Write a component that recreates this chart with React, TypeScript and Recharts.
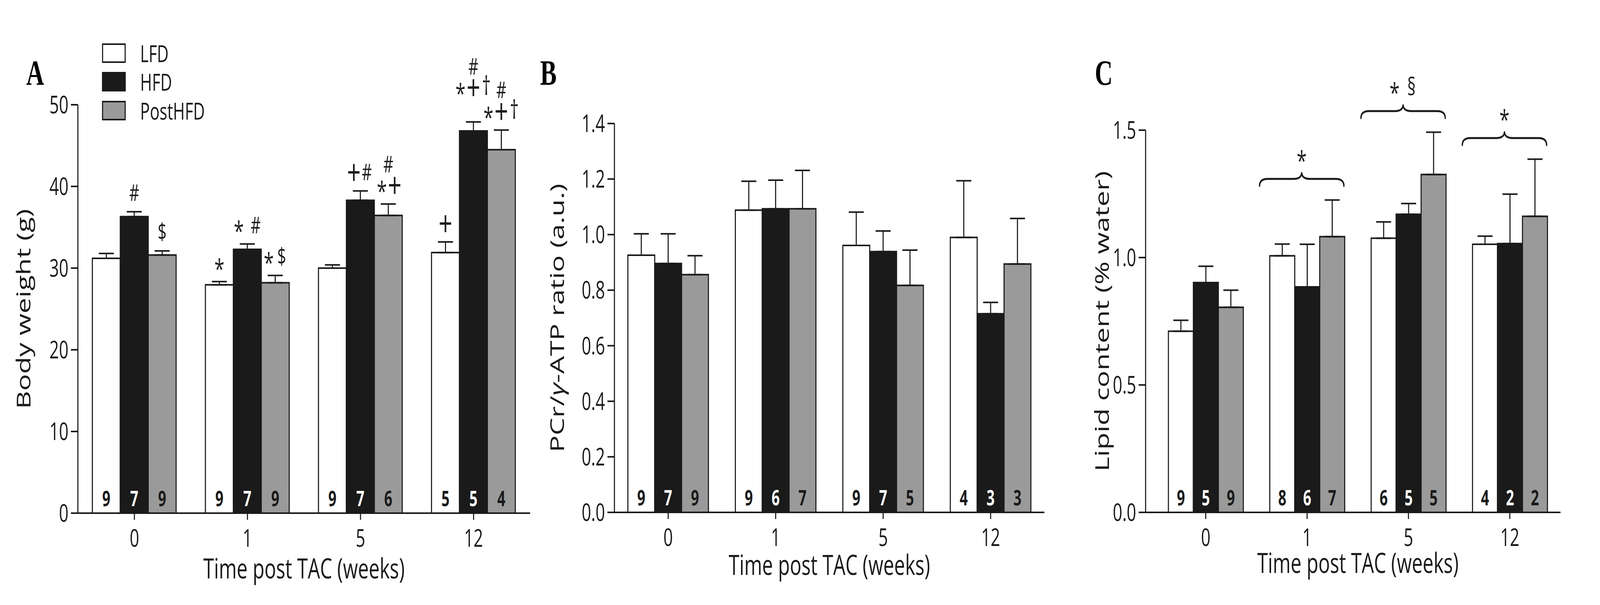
import React from 'react';
import { BarChart, Bar, XAxis, YAxis, ErrorBar, LabelList, Legend, ReferenceDot } from 'recharts';

const weeks = ['0', '1', '5', '12'];

// A: body weight (g), mean + SEM
const lfdWeight = [31.2, 27.95, 30.0, 31.9];
const lfdWeightSem = [0.6, 0.4, 0.4, 1.3];
const hfdWeight = [36.3, 32.3, 38.3, 46.8];
const hfdWeightSem = [0.6, 0.65, 1.15, 1.1];
const postWeight = [31.6, 28.2, 36.45, 44.5];
const postWeightSem = [0.5, 0.9, 1.4, 2.4];
const lfdWeightN = [9, 9, 9, 5];
const hfdWeightN = [7, 7, 7, 5];
const postWeightN = [9, 9, 6, 4];
const lfdWeightSig = [[], ['*'], [], ['+']];
const hfdWeightSig = [['#'], ['* #'], ['+#'], ['#', '*+†']];
const postWeightSig = [['$'], ['*$'], ['#', '*+'], ['#', '*+†']];
const weightTicks = [0, 10, 20, 30, 40, 50];

// B: PCr/gamma-ATP ratio
const lfdRatio = [0.926, 1.088, 0.961, 0.99];
const lfdRatioSem = [0.077, 0.104, 0.12, 0.204];
const hfdRatio = [0.896, 1.093, 0.939, 0.715];
const hfdRatioSem = [0.107, 0.103, 0.074, 0.041];
const postRatio = [0.856, 1.093, 0.817, 0.894];
const postRatioSem = [0.068, 0.138, 0.127, 0.164];
const lfdRatioN = [9, 9, 9, 4];
const hfdRatioN = [7, 6, 7, 3];
const postRatioN = [9, 7, 5, 3];
const ratioTicks = [0, 0.2, 0.4, 0.6, 0.8, 1.0, 1.2, 1.4];

// C: lipid content (% water)
const lfdLipid = [0.711, 1.007, 1.076, 1.052];
const lfdLipidSem = [0.043, 0.046, 0.064, 0.032];
const hfdLipid = [0.902, 0.885, 1.17, 1.055];
const hfdLipidSem = [0.064, 0.167, 0.042, 0.194];
const postLipid = [0.805, 1.082, 1.326, 1.162];
const postLipidSem = [0.067, 0.144, 0.166, 0.224];
const lfdLipidN = [9, 8, 6, 4];
const hfdLipidN = [5, 6, 5, 2];
const postLipidN = [9, 7, 5, 2];
const lipidTicks = [0, 0.5, 1.0, 1.5];
const lipidGroupSig = ['', '*', '* §', '*'];

const FIG_W = 5958;
const FIG_H = 1548;
const FONT = '"Open Sans", sans-serif';
const INK = '#1a1a1a';
const ORDER = ['lfd', 'hfd', 'post'];
const FILLS: Record<string, string> = { lfd: '#ffffff', hfd: '#1a1a1a', post: '#9a9a9a' };
const NAMES: Record<string, string> = { lfd: 'LFD', hfd: 'HFD', post: 'PostHFD' };
const N_COLOR: Record<string, string> = { lfd: INK, hfd: '#ffffff', post: INK };

type Series = {
  key: 'lfd' | 'hfd' | 'post';
  values: number[];
  sem: number[];
  n: number[];
  sig?: string[][];
  lift?: number[];
};

function rows(series: Series[]) {
  return weeks.map((week, i) => {
    const r: Record<string, unknown> = { week };
    series.forEach((s) => {
      r[s.key] = s.values[i];
      r[s.key + 'Sem'] = [0, s.sem[i]];
    });
    return r;
  });
}

// font size and ink centre (em above baseline) per symbol
const GLYPH: Record<string, [number, number]> = {
  '#': [58, 0.357],
  $: [58, 0.35],
  '*': [68, 0.59],
  '+': [90, 0.36],
  '†': [66, 0.29],
  '§': [62, 0.35],
};

function SymbolRow({ text, cx, cy }: { text: string; cx: number; cy: number }) {
  const chars = [...text];
  const adv = (c: string) => (c === ' ' ? 15 : 48);
  const total = chars.reduce((a, c) => a + adv(c), 0);
  let cursor = cx - total / 2;
  const out: React.ReactNode[] = [];
  chars.forEach((c, k) => {
    const a = adv(c);
    if (c !== ' ') {
      const [fs, ink] = GLYPH[c] ?? [60, 0.36];
      out.push(
        <text key={k} x={cursor + a / 2} y={cy + ink * fs} textAnchor="middle" fontSize={fs} fontFamily={FONT} fill={INK}>
          {c}
        </text>
      );
    }
    cursor += a;
  });
  return <g>{out}</g>;
}

function barBox(p: any) {
  const vb = p.viewBox ?? p;
  const h = Math.abs(vb.height);
  const y = Math.min(vb.y, vb.y + vb.height);
  return { x: vb.x, y, width: vb.width, height: h };
}

const countContent = (s: Series) => (p: any) => {
  const i = p.index;
  const { x, y, width, height } = barBox(p);
  return (
    <text x={x + width / 2} y={y + height - 18} textAnchor="middle" fontSize={53} fontWeight={700} fontFamily={FONT} fill={N_COLOR[s.key]}>
      {s.n[i]}
    </text>
  );
};

const sigContent = (s: Series) => (p: any) => {
  const i = p.index;
  const lines = s.sig?.[i];
  if (!lines || !lines.length) return null;
  const { x, y, width, height } = barBox(p);
  const pxPerUnit = height / s.values[i];
  const errTop = y - s.sem[i] * pxPerUnit;
  const base = errTop - 48 - (s.lift?.[i] ?? 0);
  return (
    <g>
      {lines.map((line, k) => (
        <SymbolRow key={k} text={line} cx={x + width / 2} cy={base - (lines.length - 1 - k) * 54} />
      ))}
    </g>
  );
};

function Brace({ cx, cy, text }: { cx: number; cy: number; text: string }) {
  const bx = cx - 20;
  const hw = 157;
  const yEnd = cy - 36;
  const yArm = yEnd - 18;
  const yPeak = yArm - 17;
  const d = `M${bx - hw},${yEnd} Q${bx - hw},${yArm} ${bx - hw + 30},${yArm} L${bx - 30},${yArm} Q${bx},${yArm} ${bx},${yPeak} Q${bx},${yArm} ${bx + 30},${yArm} L${bx + hw - 30},${yArm} Q${bx + hw},${yArm} ${bx + hw},${yEnd}`;
  return (
    <g>
      <path d={d} fill="none" stroke={INK} strokeWidth={5} strokeLinecap="round" />
      <SymbolRow text={text} cx={bx} cy={yPeak - 45} />
    </g>
  );
}

const LegendContent = (props: any) => {
  const payload = [...(props.payload ?? [])].sort(
    (a: any, b: any) => ORDER.indexOf(a.dataKey) - ORDER.indexOf(b.dataKey)
  );
  return (
    <div style={{ fontFamily: FONT }}>
      {payload.map((item: any) => (
        <div key={item.dataKey} style={{ display: 'flex', alignItems: 'center', height: 73.5 }}>
          <div
            style={{
              width: 88,
              height: 50,
              boxSizing: 'border-box',
              border: `4px solid ${INK}`,
              background: FILLS[item.dataKey],
            }}
          />
          <span style={{ marginLeft: 54, fontSize: 60, color: INK, lineHeight: 1 }}>{NAMES[item.dataKey]}</span>
        </div>
      ))}
    </div>
  );
};

type PanelProps = {
  left: number;
  width: number;
  marginRight: number;
  top: number;
  plotBottom: number;
  yWidth: number;
  domain: [number, number];
  ticks: number[];
  fmt: (v: number) => string;
  series: Series[];
  gap: string;
  padLeft: number;
  yTitle: React.ReactNode;
  yTitleX: number;
  xTitleBaseline: number;
  xTitleDx: number;
  legend?: boolean;
  groupSig?: string[];
};

function Panel(p: PanelProps) {
  const data = rows(p.series);
  return (
    <div style={{ position: 'absolute', left: p.left, top: 0 }}>
      <BarChart
        width={p.width}
        height={FIG_H}
        data={data}
        margin={{ top: p.top, right: p.marginRight, bottom: 0, left: 0 }}
        barCategoryGap={p.gap}
        barGap={0}
        style={{ overflow: 'visible' }}
      >
        <XAxis
          dataKey="week"
          interval={0}
          height={FIG_H - p.plotBottom}
          padding={{ left: p.padLeft, right: 0 }}
          axisLine={{ stroke: INK, strokeWidth: 4 }}
          tickLine={{ stroke: INK, strokeWidth: 4 }}
          tickSize={17}
          tickMargin={25}
          tick={{ fill: INK, fontSize: 62, fontFamily: FONT }}
          label={(lp: any) => {
            const vb = lp.viewBox;
            return (
              <text x={vb.x + vb.width / 2 + p.xTitleDx} y={vb.y + p.xTitleBaseline} textAnchor="middle" fontSize={72} fontFamily={FONT} fill={INK}>
                Time post TAC (weeks)
              </text>
            );
          }}
        />
        <YAxis
          width={p.yWidth}
          domain={p.domain}
          ticks={p.ticks}
          interval={0}
          allowDataOverflow
          tickFormatter={p.fmt}
          axisLine={{ stroke: INK, strokeWidth: 4 }}
          tickLine={{ stroke: INK, strokeWidth: 4 }}
          tickSize={26}
          tickMargin={9}
          tick={{ fill: INK, fontSize: 62, fontFamily: FONT }}
          label={(lp: any) => {
            const vb = lp.viewBox;
            const x = vb.x + p.yTitleX;
            const y = vb.y + vb.height / 2;
            return (
              <text x={x} y={y} transform={`rotate(-90 ${x} ${y})`} textAnchor="middle" fontSize={72} fontFamily={FONT} fill={INK}>
                {p.yTitle}
              </text>
            );
          }}
        />
        {p.legend && (
          <Legend
            layout="vertical"
            align="center"
            verticalAlign="middle"
            wrapperStyle={{ left: 380, top: 99, width: 'auto', height: 'auto' }}
            content={LegendContent}
          />
        )}
        {p.series.map((s) => (
          <Bar
            key={s.key}
            dataKey={s.key}
            name={NAMES[s.key]}
            fill={FILLS[s.key]}
            stroke={INK}
            strokeWidth={4}
            isAnimationActive={false}
          >
            <ErrorBar dataKey={s.key + 'Sem'} width={28} stroke={INK} strokeWidth={4} direction="y" isAnimationActive={false} />
            <LabelList dataKey={s.key} content={countContent(s)} />
            {s.sig && <LabelList dataKey={s.key} content={sigContent(s)} />}
          </Bar>
        ))}
        {p.groupSig &&
          weeks.map((w, i) =>
            p.groupSig && p.groupSig[i] ? (
              <ReferenceDot
                key={w}
                x={w}
                y={Math.max(...p.series.map((s) => s.values[i] + s.sem[i]))}
                r={0}
                ifOverflow="visible"
                shape={(sp: any) => <Brace cx={sp.cx} cy={sp.cy} text={p.groupSig![i]} />}
              />
            ) : null
          )}
      </BarChart>
    </div>
  );
}

export default function App() {
  const weightSeries: Series[] = [
    { key: 'lfd', values: lfdWeight, sem: lfdWeightSem, n: lfdWeightN, sig: lfdWeightSig },
    { key: 'hfd', values: hfdWeight, sem: hfdWeightSem, n: hfdWeightN, sig: hfdWeightSig, lift: [0, 0, 0, 40] },
    { key: 'post', values: postWeight, sem: postWeightSem, n: postWeightN, sig: postWeightSig },
  ];
  const ratioSeries: Series[] = [
    { key: 'lfd', values: lfdRatio, sem: lfdRatioSem, n: lfdRatioN },
    { key: 'hfd', values: hfdRatio, sem: hfdRatioSem, n: hfdRatioN },
    { key: 'post', values: postRatio, sem: postRatioSem, n: postRatioN },
  ];
  const lipidSeries: Series[] = [
    { key: 'lfd', values: lfdLipid, sem: lfdLipidSem, n: lfdLipidN },
    { key: 'hfd', values: hfdLipid, sem: hfdLipidSem, n: hfdLipidN },
    { key: 'post', values: postLipid, sem: postLipidSem, n: postLipidN },
  ];

  // the browser window may be narrower than the figure: squeeze it horizontally to fit
  const vw = typeof window !== 'undefined' ? window.innerWidth : FIG_W;
  const sx = Math.min(1, vw / FIG_W);

  return (
    <div style={{ position: 'relative', width: FIG_W * sx, height: FIG_H, overflow: 'hidden', background: '#ffffff' }}>
      <style>{'body{margin:0}'}</style>
      <div
        style={{
          position: 'absolute',
          left: 0,
          top: 0,
          width: FIG_W,
          height: FIG_H,
          transform: `scaleX(${sx})`,
          transformOrigin: '0 0',
        }}
      >
        <Panel
          left={0}
          width={2000}
          marginRight={26}
          top={268}
          plotBottom={1313}
          yWidth={290}
          domain={[0, 50]}
          ticks={weightTicks}
          fmt={(v) => String(v)}
          series={weightSeries}
          gap="12.8%"
          padLeft={0}
          yTitle="Body weight (g)"
          yTitleX={114}
          xTitleBaseline={167}
          xTitleDx={0}
          legend
        />
        <Panel
          left={2000}
          width={1930}
          marginRight={41}
          top={316}
          plotBottom={1311}
          yWidth={288}
          domain={[0, 1.4]}
          ticks={ratioTicks}
          fmt={(v) => v.toFixed(1)}
          series={ratioSeries}
          gap="12.5%"
          padLeft={0}
          yTitle={
            <>
              PCr/<tspan fontStyle="italic">γ</tspan>-ATP ratio (a.u.)
            </>
          }
          yTitleX={100}
          xTitleBaseline={160}
          xTitleDx={0}
        />
        <Panel
          left={3930}
          width={2028}
          marginRight={147}
          top={333}
          plotBottom={1311}
          yWidth={336}
          domain={[0, 1.5]}
          ticks={lipidTicks}
          fmt={(v) => v.toFixed(1)}
          series={lipidSeries}
          gap="13.2%"
          padLeft={35}
          yTitle="Lipid content (% water)"
          yTitleX={199}
          xTitleBaseline={155}
          xTitleDx={18}
          groupSig={lipidGroupSig}
        />
        <svg width={FIG_W} height={FIG_H} style={{ position: 'absolute', left: 0, top: 0, pointerEvents: 'none' }}>
          <g fontFamily='"Liberation Serif", serif' fontWeight={700} fontSize={92} fill="#000">
            <text x={131} y={217} textAnchor="middle">A</text>
            <text x={2042} y={217} textAnchor="middle">B</text>
            <text x={4110} y={217} textAnchor="middle">C</text>
          </g>
        </svg>
      </div>
    </div>
  );
}
